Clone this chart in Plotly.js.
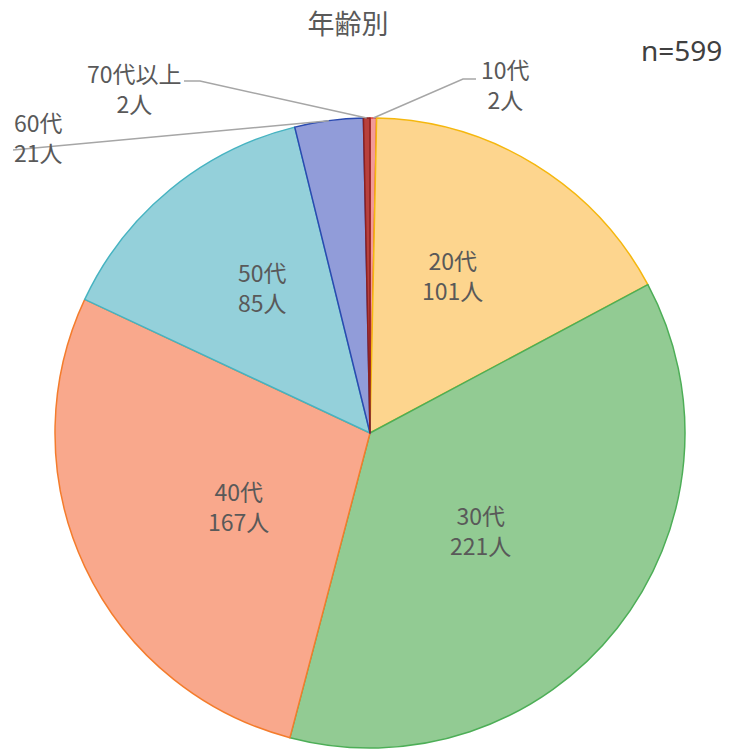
<!DOCTYPE html>
<html>
<head>
<meta charset="utf-8">
<script src="https://cdn.plot.ly/plotly-3.0.1.min.js"></script>
<style>html,body{margin:0;padding:0;background:#fff;}#chart{width:730px;height:749px;}</style>
</head>
<body>
<div id="chart"></div>
<script>
const labels = ['10代', '20代', '30代', '40代', '50代', '60代', '70代以上'];
const values = [2, 101, 221, 167, 85, 21, 2];
const fillColors = ['#F29A98', '#FDD58E', '#92CB93', '#F9A88C', '#94D0DA', '#919CD9', '#B8403D'];
const lineColors = ['#E0403C', '#F5B70E', '#4DAE57', '#F47C2C', '#46B3C1', '#2A4AB0', '#8C2020'];
const titleText = '年齢別';
const nText = 'n=599';
const unit = '人';

const W = 730, H = 749;
const CX = 370, CY = 433, R = 315;
const FONT = '"Noto Sans CJK JP", "Noto Sans", sans-serif';

const total = values.reduce((a, b) => a + b, 0);
const texts = labels.map((l, i) => l + '<br>' + values[i] + unit);

function edgePoint(i) {
  let cum = 0;
  for (let k = 0; k < i; k++) cum += values[k];
  cum += values[i] / 2;
  const th = cum / total * 2 * Math.PI;
  return [CX + R * Math.sin(th), CY - R * Math.cos(th)];
}
const px = (x) => x / W;
const py = (y) => 1 - y / H;

// label placement (layout): text centre and, for outside labels, leader-line waypoints
const placement = [
  {center: [505, 84], path: [[463, 79], [476, 79]]},
  {center: [452, 275]},
  {center: [480, 530]},
  {center: [238, 506]},
  {center: [262, 287]},
  {center: [38, 137], path: [[13, 150]]},
  {center: [134, 88], path: [[200, 81], [184, 81]]}
];

const shapes = [];
const annotations = [];
placement.forEach((o, i) => {
  if (o.path) {
    const pts = [edgePoint(i)].concat(o.path);
    const d = pts.map((p, j) => (j ? 'L' : 'M') + px(p[0]).toFixed(5) + ',' + py(p[1]).toFixed(5)).join(' ');
    shapes.push({type: 'path', xref: 'paper', yref: 'paper', path: d,
      line: {color: '#A6A6A6', width: 1.5}});
  }
  annotations.push({xref: 'paper', yref: 'paper', x: px(o.center[0]), y: py(o.center[1]),
    xanchor: 'center', yanchor: 'middle', showarrow: false, text: texts[i],
    font: {family: FONT, size: 23, color: '#595959'}});
});
annotations.push({xref: 'paper', yref: 'paper', x: px(681), y: py(50), xanchor: 'center', yanchor: 'middle',
  showarrow: false, text: nText, font: {family: '"Noto Sans", sans-serif', size: 28, color: '#404040'}});

const trace = {
  type: 'pie',
  labels: labels,
  values: values,
  textinfo: 'none',
  sort: false,
  direction: 'clockwise',
  rotation: 0,
  hole: 0,
  marker: {colors: fillColors, line: {color: lineColors, width: 1.5}},
  domain: {x: [px(CX - R), px(CX + R)], y: [py(CY + R), py(CY - R)]},
  hoverinfo: 'none'
};

const layout = {
  width: W, height: H,
  margin: {l: 0, r: 0, t: 0, b: 0},
  paper_bgcolor: '#ffffff',
  showlegend: false,
  title: {text: titleText, x: px(348), xanchor: 'center', y: py(25), yanchor: 'middle',
    font: {family: FONT, size: 27, color: '#595959'}},
  shapes: shapes,
  annotations: annotations
};

Plotly.newPlot('chart', [trace], layout, {displayModeBar: false, staticPlot: true});
</script>
</body>
</html>
